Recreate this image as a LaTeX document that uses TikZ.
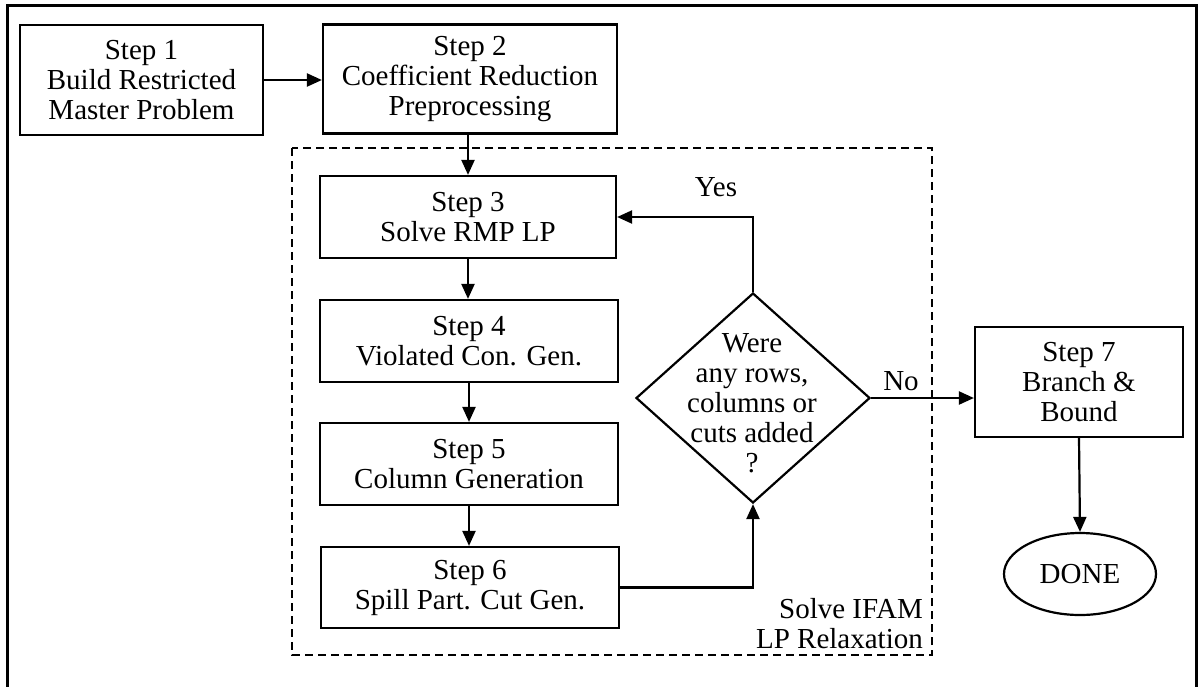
\documentclass[tikz,border=0pt]{standalone}
\usepackage{fontspec}
\setmainfont{Liberation Serif}
\usetikzlibrary{arrows.meta,shapes.geometric}
\begin{document}
\begin{tikzpicture}[x=1pt,y=-1pt,
  every node/.style={font=\fontsize{29}{30}\selectfont},
  stepbox/.style={draw,line width=2.2pt,rectangle,align=center,inner sep=0pt},
  flow/.style={line width=2.2pt,-{Triangle[length=15pt,width=13pt]}},
  frame/.style={line width=3pt,line cap=rect},
  region/.style={line width=1.8pt,dash pattern=on 8pt off 5pt}]
\useasboundingbox (0,0) rectangle (1199,686);

% outer frame (open at the bottom)
\draw[frame] (7,690) -- (7,5) -- (1196.5,5) -- (1196.5,690);

% dashed region around the LP relaxation loop
\draw[region] (292,148) rectangle (932,655);
\node[anchor=south east,inner sep=0pt,align=right] (lbl) at (923,649)
  {Solve IFAM\\LP Relaxation};

% process steps
\node[stepbox,minimum width=243pt,minimum height=110pt] (s1) at (141.5,80)
  {Step 1\\Build Restricted\\Master Problem};
\node[stepbox,minimum width=294pt,minimum height=109pt] (s2) at (470,79)
  {Step 2\\Coefficient Reduction\\Preprocessing};
\node[stepbox,minimum width=296pt,minimum height=82pt] (s3) at (468,217)
  {Step 3\\Solve RMP LP};
\node[stepbox,minimum width=298pt,minimum height=82pt] (s4) at (469,341)
  {Step 4\\Violated Con. Gen.};
\node[stepbox,minimum width=298pt,minimum height=82pt] (s5) at (469,464)
  {Step 5\\Column Generation};
\node[stepbox,minimum width=298pt,minimum height=81pt] (s6) at (470,587.5)
  {Step 6\\Spill Part. Cut Gen.};
\node[stepbox,minimum width=208pt,minimum height=110pt] (s7) at (1079,382)
  {Step 7\\Branch \&\\Bound};

% decision
\node[diamond,draw,line width=2.2pt,minimum width=234pt,minimum height=210pt,
  inner sep=0pt] (q) at (753,398) {};
\node[align=center,inner sep=0pt] (qt) at (752,403)
  {Were\\any rows,\\columns or\\cuts added\\?};

% end
\node[ellipse,draw,line width=2.2pt,minimum width=152pt,minimum height=82pt,
  inner sep=0pt] (done) at (1080,574) {DONE};

% connectors
\draw[flow] (s1.east) -- (s1.east -| s2.west);
\draw[flow] (s3.north |- s2.south) -- (s3.north);
\draw[flow] (s3.south) -- (s3.south |- s4.north);
\draw[flow] (s4.south) -- (s4.south |- s5.north);
\draw[flow] (s5.south) -- (s5.south |- s6.north);
\draw[flow] (s6.east) -| (q.south);
\draw[flow] (q.north) |- (s3.east);
\draw[flow] (q.east) -- (q.east -| s7.west);
\draw[flow] (s7.south) -- (done.north);

% branch labels
\node (yes) at (716,187) {Yes};
\node (no) at (901,381) {No};
\end{tikzpicture}
\end{document}
